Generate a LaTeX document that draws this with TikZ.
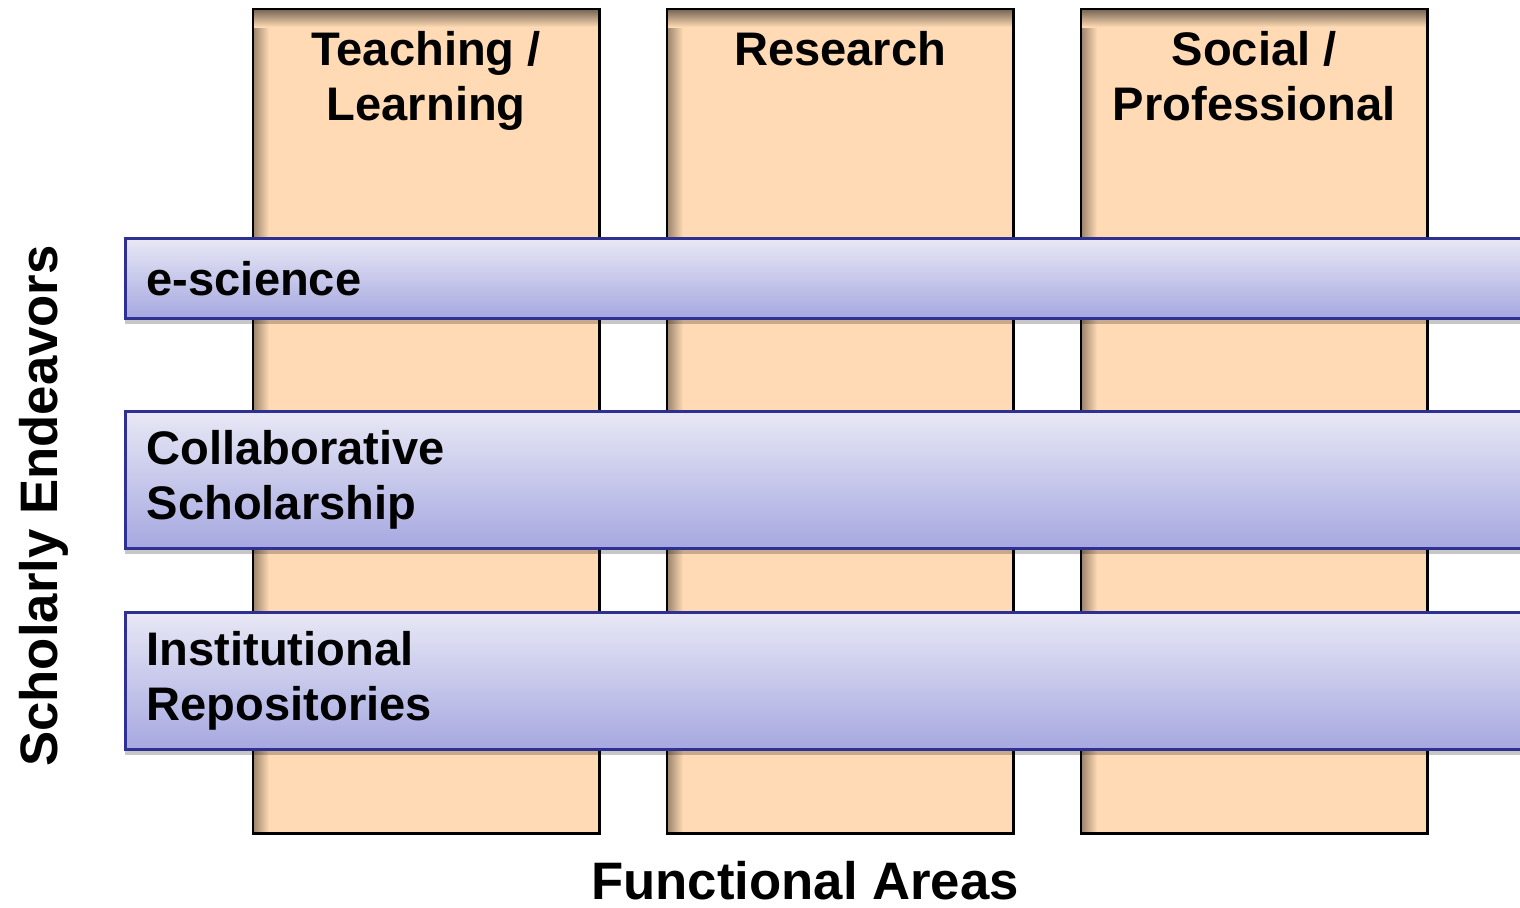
\documentclass[tikz,border=0pt]{standalone}
\usepackage{fontspec}
\setmainfont{Liberation Sans}
\usetikzlibrary{positioning,shadows}

\definecolor{peach}{RGB}{255,218,180}
\definecolor{navy}{RGB}{46,49,146}
\definecolor{lavtop}{RGB}{232,232,246}
\definecolor{lavbot}{RGB}{166,168,224}

\begin{document}
\begin{tikzpicture}[x=0.1mm,y=-0.1mm]
       \tikzstyle{area}=[fill=peach, anchor=north west,
         minimum width=34.5mm, minimum height=82.3mm, inner sep=0pt]
       \tikzstyle{band}=[draw=navy, line width=0.8pt, top color=lavtop, bottom color=lavbot,
         anchor=north west, minimum width=141mm, inner sep=0pt,
         drop shadow={shadow xshift=0mm, shadow yshift=-0.6mm, fill=black, opacity=0.22}]
       \tikzstyle{head}=[font=\fontsize{13.4}{15.6}\selectfont\bfseries, align=center, inner sep=0pt]
       \tikzstyle{tag}=[font=\fontsize{13.4}{15.6}\selectfont\bfseries, align=left, inner sep=0pt, anchor=west]
       \tikzstyle{axis}=[font=\fontsize{15}{18}\selectfont\bfseries, inner sep=0pt]

       \clip (0,0) rectangle (1520,907);

       \node[area] (col_1) at (253,9) {};
       \node[area] (col_2) at (667,9) {};
       \node[area] (col_3) at (1081,9) {};
       % inner shadow on the left and top edges
       \foreach \c in {col_1,col_2,col_3}{
         \shade[left color=peach!60!black, right color=peach]
           (\c.north west) rectangle ([xshift=1.6mm]\c.south west);
         \shade[top color=peach!45!black, bottom color=peach]
           (\c.north west) rectangle ([yshift=-1.8mm]\c.north east);
         \draw[line width=0.75pt] (\c.north west) rectangle (\c.south east);
       }
       \node[head, below=2.2mm of col_1.north] (head_1) {Teaching /\\Learning};
       \node[head, below=2.2mm of col_2.north] (head_2) {Research};
       \node[head, below=2.2mm of col_3.north] (head_3) {Social /\\Professional};

       \node[band, minimum height=8mm] (band_1) at (124,237) {};
       \node[band, minimum height=13.7mm] (band_2) at (124,410) {};
       \node[band, minimum height=13.7mm] (band_3) at (124,611) {};
       \node[tag, right=2.2mm of band_1.west] (tag_1) {e-science};
       \node[tag, right=2.2mm of band_2.west] (tag_2) {Collaborative\\Scholarship};
       \node[tag, right=2.2mm of band_3.west] (tag_3) {Institutional\\Repositories};

       \node[axis, anchor=base] (x_axis) at (805,899) {Functional Areas};
       \node[axis, rotate=90, anchor=base] (y_axis) at (57,506) {Scholarly Endeavors};
     \end{tikzpicture}
\end{document}
